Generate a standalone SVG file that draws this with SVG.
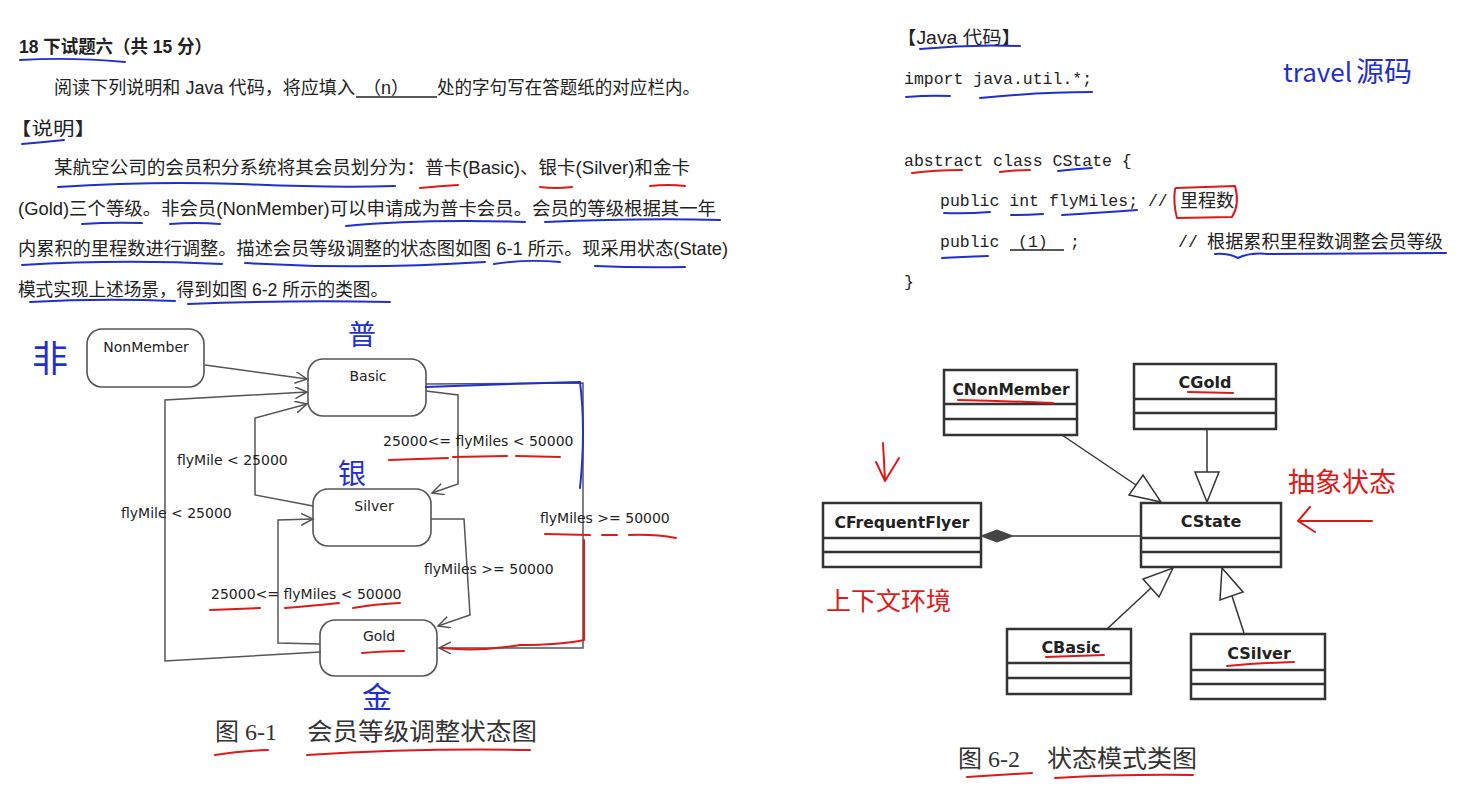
<svg xmlns="http://www.w3.org/2000/svg" width="1462" height="792" viewBox="0 0 1462 792">
<style>
.t{font-family:"Liberation Sans","Noto Sans CJK SC",sans-serif;font-size:18px;fill:#222}
.code{font-family:"Liberation Mono","Noto Sans CJK SC",monospace;font-size:16.5px;fill:#222}
.st{fill:#fff;stroke:#555;stroke-width:1.6}
.sl{font-family:"DejaVu Sans",sans-serif;font-size:14px;fill:#222}
.sn{font-family:"DejaVu Sans",sans-serif;font-size:14px;fill:#222;text-anchor:middle}
.edge{fill:none;stroke:#555;stroke-width:1.5}
.cb{fill:#fff;stroke:#333;stroke-width:2.5}
.cline{stroke:#333;stroke-width:2.5}
.cl{font-family:"DejaVu Sans",sans-serif;font-weight:bold;font-size:16px;fill:#222;text-anchor:middle}
.gen{fill:#fff;stroke:#333;stroke-width:1.5}
.cedge{fill:none;stroke:#333;stroke-width:1.5}
.cap{font-family:"Liberation Serif","Noto Sans CJK SC",serif;font-size:24px;fill:#333}
.pb{fill:none;stroke:#1f2fd0;stroke-width:2;stroke-linecap:round;stroke-linejoin:round}
.pr{fill:none;stroke:#e01818;stroke-width:2;stroke-linecap:round;stroke-linejoin:round}
.hb{font-family:"Noto Sans CJK SC",sans-serif;fill:#1f2fd0}
.hr{font-family:"Noto Sans CJK SC",sans-serif;fill:#e01818}
</style>
<defs>
<marker id="open" markerUnits="userSpaceOnUse" markerWidth="14" markerHeight="14" refX="12" refY="6" orient="auto">
<path d="M0,0 L12,6 L0,12" fill="none" stroke="#555" stroke-width="1.5"/>
</marker>
</defs>
<rect width="1462" height="792" fill="#fff"/>

<g id="text-left">
<text class="t" x="19" y="53" font-weight="bold" font-size="17" textLength="193" lengthAdjust="spacingAndGlyphs">18 下试题六（共 15 分）</text>
<text class="t" x="54" y="94" textLength="301" lengthAdjust="spacingAndGlyphs">阅读下列说明和 Java 代码，将应填入</text>
<text class="t" x="363" y="94">（n）</text>
<line x1="356" y1="97" x2="437" y2="97" stroke="#222" stroke-width="1.3"/>
<text class="t" x="437" y="94" textLength="263" lengthAdjust="spacingAndGlyphs">处的字句写在答题纸的对应栏内。</text>
<text class="t" x="10" y="135" textLength="86" lengthAdjust="spacingAndGlyphs">【说明】</text>
<text class="t" x="54" y="174" textLength="636" lengthAdjust="spacingAndGlyphs">某航空公司的会员积分系统将其会员划分为：普卡(Basic)、银卡(Silver)和金卡</text>
<text class="t" x="18" y="215" textLength="698" lengthAdjust="spacingAndGlyphs">(Gold)三个等级。非会员(NonMember)可以申请成为普卡会员。会员的等级根据其一年</text>
<text class="t" x="18" y="255" textLength="710" lengthAdjust="spacingAndGlyphs">内累积的里程数进行调整。描述会员等级调整的状态图如图 6-1 所示。现采用状态(State)</text>
<text class="t" x="18" y="296" textLength="370" lengthAdjust="spacingAndGlyphs">模式实现上述场景，得到如图 6-2 所示的类图。</text>
</g>

<g id="code">
<text class="t" x="897" y="44" font-size="17" textLength="124" lengthAdjust="spacingAndGlyphs">【Java 代码】</text>
<text class="code" x="904" y="84">import java.util.*;</text>
<text class="code" x="904" y="166">abstract class CState {</text>
<text class="code" x="940" y="206">public int flyMiles; //</text>
<text class="t" x="1180" y="207" font-size="17">里程数</text>
<text class="code" x="940" y="247">public</text>
<text class="code" x="1018" y="247">(1)</text>
<line x1="1010" y1="250" x2="1064" y2="250" stroke="#222" stroke-width="1.3"/>
<text class="code" x="1070" y="247">;</text>
<text class="code" x="1178" y="247">//</text>
<text class="t" x="1207" y="248" textLength="236" lengthAdjust="spacingAndGlyphs">根据累积里程数调整会员等级</text>
<text class="code" x="904" y="287">}</text>
</g>

<g id="state-diagram">
<g id="s-nonmember"><rect class="st" x="87" y="329" width="117" height="58" rx="15"/><text class="sn" x="146" y="352">NonMember</text></g>
<g id="s-basic"><rect class="st" x="308" y="359" width="118" height="57" rx="15"/><text class="sn" x="368" y="381">Basic</text></g>
<g id="s-silver"><rect class="st" x="313" y="489" width="118" height="57" rx="15"/><text class="sn" x="374" y="511">Silver</text></g>
<g id="s-gold"><rect class="st" x="320" y="620" width="117" height="56" rx="15"/><text class="sn" x="379" y="641">Gold</text></g>
<g id="s-edges">
<path class="edge" d="M205,365 L307,379" marker-end="url(#open)"/>
<path class="edge" d="M321,652 L165,661 L165,400 L307,392" marker-end="url(#open)"/>
<path class="edge" d="M313,506 L255,495 L255,418 L307,404" marker-end="url(#open)"/>
<path class="edge" d="M426,391 L458,395 L458,484 L432,493" marker-end="url(#open)"/>
<path class="edge" d="M426,384 L583,383 L583,648 L439,648" marker-end="url(#open)"/>
<path class="edge" d="M431,519 L464,519 L470,615 L438,626" marker-end="url(#open)"/>
<path class="edge" d="M320,644 L278,643 L278,520 L313,519" marker-end="url(#open)"/>
<text class="sl" x="177" y="465">flyMile &lt; 25000</text>
<text class="sl" x="121" y="518">flyMile &lt; 25000</text>
<text class="sl" x="383" y="446">25000&lt;= flyMiles &lt; 50000</text>
<text class="sl" x="540" y="523">flyMiles &gt;= 50000</text>
<text class="sl" x="424" y="574">flyMiles &gt;= 50000</text>
<text class="sl" x="211" y="599">25000&lt;= flyMiles &lt; 50000</text>
</g>
<text class="cap" x="215" y="740">图 6-1</text>
<text class="cap" x="307" y="740" textLength="230" lengthAdjust="spacingAndGlyphs">会员等级调整状态图</text>
</g>

<g id="class-diagram">
<g id="c-nonmember"><rect class="cb" x="944" y="370" width="133" height="65"/><line class="cline" x1="944" y1="404" x2="1077" y2="404"/><line class="cline" x1="944" y1="419" x2="1077" y2="419"/><text class="cl" x="1011" y="395" textLength="117" lengthAdjust="spacingAndGlyphs">CNonMember</text></g>
<g id="c-gold"><rect class="cb" x="1134" y="364" width="142" height="65"/><line class="cline" x1="1134" y1="399" x2="1276" y2="399"/><line class="cline" x1="1134" y1="413" x2="1276" y2="413"/><text class="cl" x="1205" y="388">CGold</text></g>
<g id="c-frequentflyer"><rect class="cb" x="823" y="503" width="158" height="64"/><line class="cline" x1="823" y1="538" x2="981" y2="538"/><line class="cline" x1="823" y1="552" x2="981" y2="552"/><text class="cl" x="902" y="528" textLength="135" lengthAdjust="spacingAndGlyphs">CFrequentFlyer</text></g>
<g id="c-state"><rect class="cb" x="1141" y="503" width="140" height="64"/><line class="cline" x1="1141" y1="538" x2="1281" y2="538"/><line class="cline" x1="1141" y1="552" x2="1281" y2="552"/><text class="cl" x="1211" y="527">CState</text></g>
<g id="c-basic"><rect class="cb" x="1007" y="629" width="124" height="65"/><line class="cline" x1="1007" y1="663" x2="1131" y2="663"/><line class="cline" x1="1007" y1="678" x2="1131" y2="678"/><text class="cl" x="1071" y="653">CBasic</text></g>
<g id="c-silver"><rect class="cb" x="1191" y="634" width="134" height="65"/><line class="cline" x1="1191" y1="670" x2="1325" y2="670"/><line class="cline" x1="1191" y1="684" x2="1325" y2="684"/><text class="cl" x="1259" y="659">CSilver</text></g>
<g id="c-edges">
<path class="cedge" d="M1013,536 L1141,536"/>
<polygon points="981,536 997,530 1013,536 997,542" fill="#444" stroke="#444" stroke-width="1"/>
<path class="cedge" d="M1062,435 L1136,485"/>
<polygon class="gen" points="1161,502 1129,495 1143,475"/>
<path class="cedge" d="M1207,429 L1207,472"/>
<polygon class="gen" points="1207,502 1195,472 1219,472"/>
<path class="cedge" d="M1107,629 L1151,588"/>
<polygon class="gen" points="1173,568 1159,597 1143,579"/>
<path class="cedge" d="M1244,633 L1232,596"/>
<polygon class="gen" points="1222,568 1243,592 1220,600"/>
</g>
<text class="cap" x="958" y="767">图 6-2</text>
<text class="cap" x="1047" y="767" textLength="150" lengthAdjust="spacingAndGlyphs">状态模式类图</text>
</g>

<g id="pen-annotations">
<path class="pb" d="M20,60 Q70,57 125,62"/>
<path class="pb" d="M22,144 Q45,142 64,140"/>
<path class="pb" d="M58,187 Q150,181 240,184 Q330,188 395,186"/>
<path class="pb" d="M82,224 Q110,222 142,223"/>
<path class="pb" d="M170,224 Q195,222 220,224"/>
<path class="pb" d="M346,226 Q420,219 525,222"/>
<path class="pb" d="M545,222 Q640,218 720,220"/>
<path class="pb" d="M22,265 Q120,259 222,264"/>
<path class="pb" d="M245,263 Q360,270 485,262"/>
<path class="pb" d="M494,264 Q525,259 560,262"/>
<path class="pb" d="M595,266 Q640,268 685,267"/>
<path class="pb" d="M30,302 Q100,298 175,301"/>
<path class="pb" d="M188,304 Q290,300 390,302"/>
<path class="pr" d="M420,188 Q440,186 458,185"/>
<path class="pr" d="M540,187 Q555,189 572,187"/>
<path class="pr" d="M650,186 Q668,184 685,186"/>

<path class="pb" d="M920,49 Q970,44 1020,46"/>
<path class="pb" d="M906,97 Q930,95 950,96"/>
<path class="pb" d="M980,98 Q1040,92 1092,92"/>
<path class="pr" d="M912,173 Q935,170 962,170"/>
<path class="pr" d="M1000,172 Q1015,170 1030,170"/>
<path class="pb" d="M1058,171 Q1075,169 1092,168"/>
<path class="pb" d="M944,213 Q965,214 990,212"/>
<path class="pb" d="M1011,215 Q1025,215 1043,214"/>
<path class="pb" d="M1062,215 Q1095,213 1137,210"/>
<path class="pr" d="M1175,189 Q1173,203 1177,218 L1232,217 Q1240,204 1235,186 L1176,188"/>
<path class="pb" d="M942,258 Q960,257 988,256"/>
<path class="pb" d="M1215,254 Q1228,253 1238,258 Q1250,252 1268,254 L1446,253"/>
<text class="hb" x="1283" y="82" font-size="26" font-family="DejaVu Sans">travel<tspan font-family="Noto Sans CJK SC" font-size="28" dx="4">源码</tspan></text>

<text class="hb" x="32" y="372" font-size="36">非</text>
<text class="hb" x="348" y="345" font-size="28">普</text>
<text class="hb" x="338" y="484" font-size="28">银</text>
<text class="hb" x="362" y="708" font-size="30">金</text>
<path class="pb" d="M426,387 Q500,384 580,382 Q586,430 580,488"/>
<path class="pr" d="M584,540 L584,640 Q560,645 520,645 Q480,652 442,648"/>
<path class="pr" d="M389,460 L448,458"/>
<path class="pr" d="M453,457 L507,456"/>
<path class="pr" d="M516,456 L560,457"/>
<path class="pr" d="M545,534 L590,535"/>
<path class="pr" d="M602,535 L617,535"/>
<path class="pr" d="M629,535 Q655,534 676,538"/>
<path class="pr" d="M210,610 L260,608"/>
<path class="pr" d="M285,608 Q310,606 339,603"/>
<path class="pr" d="M353,608 Q375,604 400,603"/>
<path class="pr" d="M362,653 Q385,651 404,651"/>
<path class="pr" d="M215,755 Q240,751 268,750"/>
<path class="pr" d="M307,755 Q420,748 530,750"/>

<path class="pr" d="M958,400 Q1005,401 1053,403"/>
<path class="pr" d="M1188,392 L1233,393"/>
<path class="pr" d="M1046,657 Q1075,656 1104,655"/>
<path class="pr" d="M1227,666 Q1260,663 1294,662"/>
<path class="pr" d="M967,777 Q1000,775 1032,773"/>
<path class="pr" d="M1055,778 Q1125,774 1193,775"/>
<path class="pr" d="M883,443 L885,480 M876,462 L885,481 L899,458"/>
<path class="pr" d="M1372,521 L1298,521 M1310,507 L1298,521 L1315,532"/>
<text class="hr" x="826" y="610" font-size="25">上下文环境</text>
<text class="hr" x="1288" y="492" font-size="27">抽象状态</text>
</g>
</svg>
